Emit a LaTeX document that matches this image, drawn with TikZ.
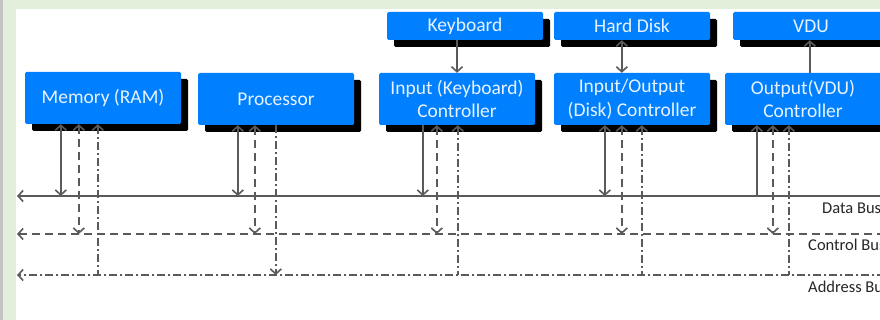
\documentclass[tikz,border=0pt]{standalone}
\usepackage{fontspec}
\setmainfont{Carlito}
\usetikzlibrary{arrows.meta,calc,positioning,shadows}
\definecolor{BoxBlue}{RGB}{0,128,255}
\definecolor{BoxText}{RGB}{232,243,255}
\definecolor{WireGray}{RGB}{90,90,90}
\definecolor{FrameGreen}{RGB}{226,239,218}
\definecolor{FrameGray}{RGB}{196,196,196}
\tikzset{
  unit/.style={fill=BoxBlue, text=BoxText, rounded corners=1.5pt, align=center,
    minimum width=156pt, inner sep=0pt,
    drop shadow={shadow xshift=7pt, shadow yshift=-7pt, fill=black, opacity=1},
    font=\fontsize{19.5}{23.5}\selectfont},
  wire/.style={draw=WireGray, line width=1.6pt},
  ctrlwire/.style={wire, dash pattern=on 8pt off 5pt},
  addrwire/.style={wire, dash pattern=on 8pt off 3pt on 2pt off 3pt},
  buslabel/.style={anchor=west, text=black!85, inner sep=0pt,
    font=\fontsize{16.5}{19}\selectfont}
}

\begin{document}
\begin{tikzpicture}[x=1pt, y=-1pt, >={Straight Barb[length=5pt,width=11pt]}]
\useasboundingbox (0,0) rectangle (880,320);
\clip (0,0) rectangle (880,320);
\fill[white] (0,0) rectangle (880,320);
\fill[FrameGreen] (0,0) rectangle (880,9);
\fill[FrameGreen] (0,0) rectangle (16,320);
\fill[FrameGray] (0,0) rectangle (3,320);

% devices
\node[unit, minimum height=52pt] (mem) at (103,98) {Memory (RAM)};
\node[unit, minimum height=52pt] (proc) at (276,99) {Processor};
\node[unit, minimum height=52pt] (kbctrl) at (457,99) {Input (Keyboard)\\Controller};
\node[unit, minimum height=52pt] (ioctrl) at (632,99) {Input/Output\\(Disk) Controller};
\node[unit, minimum height=52pt] (outctrl) at (803,99) {Output(VDU)\\Controller};
\node[unit, minimum height=28pt] (kb) at (465,26) {Keyboard};
\node[unit, minimum height=28pt] (hd) at (632,26) {Hard Disk};
\node[unit, minimum height=28pt] (vdu) at (811,26) {VDU};

% buses
\coordinate (dataL) at (17,196);
\coordinate (dataR) at (885,196);
\coordinate (ctrlL) at (17,234);
\coordinate (ctrlR) at (885,234);
\coordinate (addrL) at (17,275);
\coordinate (addrR) at (885,275);
\draw[wire,->] (dataR) -- (dataL);
\draw[ctrlwire,->] (ctrlR) -- (ctrlL);
\draw[addrwire,->] (addrR) -- (addrL);
\node[buslabel] (datalbl) at (822,208) {Data Bus};
\node[buslabel] (ctrllbl) at (808,245) {Control Bus};
\node[buslabel] (addrlbl) at (808,287) {Address Bus};

% taps
\coordinate (memD) at ([xshift=36pt]mem.south west);
\coordinate (memC) at ([xshift=54pt]mem.south west);
\coordinate (memA) at ([xshift=73pt]mem.south west);
\coordinate (procD) at ([xshift=40pt]proc.south west);
\coordinate (procC) at ([xshift=57pt]proc.south west);
\coordinate (procA) at ([xshift=78pt]proc.south west);
\coordinate (kbD) at ([xshift=44pt]kbctrl.south west);
\coordinate (kbC) at ([xshift=58pt]kbctrl.south west);
\coordinate (kbA) at ([xshift=79pt]kbctrl.south west);
\coordinate (ioD) at ([xshift=51pt]ioctrl.south west);
\coordinate (ioC) at ([xshift=68pt]ioctrl.south west);
\coordinate (ioA) at ([xshift=88pt]ioctrl.south west);
\coordinate (outD) at ([xshift=32pt]outctrl.south west);
\coordinate (outC) at ([xshift=48pt]outctrl.south west);
\coordinate (outA) at ([xshift=64pt]outctrl.south west);

\draw[wire,<->] (memD) -- (memD |- dataL);
\draw[ctrlwire,<->] (memC) -- (memC |- ctrlL);
\draw[addrwire,<-] (memA) -- (memA |- addrL);

\draw[wire,<->] (procD) -- (procD |- dataL);
\draw[ctrlwire,<->] (procC) -- (procC |- ctrlL);
\draw[addrwire,->] (procA) -- (procA |- addrL);

\draw[wire,->] (kbD) -- (kbD |- dataL);
\draw[ctrlwire,<->] (kbC) -- (kbC |- ctrlL);
\draw[addrwire,<-] (kbA) -- (kbA |- addrL);

\draw[wire,<->] (ioD) -- (ioD |- dataL);
\draw[ctrlwire,<->] (ioC) -- (ioC |- ctrlL);
\draw[addrwire,<-] (ioA) -- (ioA |- addrL);

\draw[wire,<-] (outD) -- (outD |- dataL);
\draw[ctrlwire,<->] (outC) -- (outC |- ctrlL);
\draw[addrwire,<-] (outA) -- (outA |- addrL);

% peripherals
\coordinate (ioT) at ([xshift=68pt]ioctrl.north west);
\coordinate (outT) at ([xshift=85pt]outctrl.north west);
\draw[wire,->] (kb.south -| kbctrl.north) -- (kbctrl.north);
\draw[wire,<->] (hd.south -| ioT) -- (ioT);
\draw[wire,->] (outT) -- (vdu.south -| outT);
\end{tikzpicture}
\end{document}
